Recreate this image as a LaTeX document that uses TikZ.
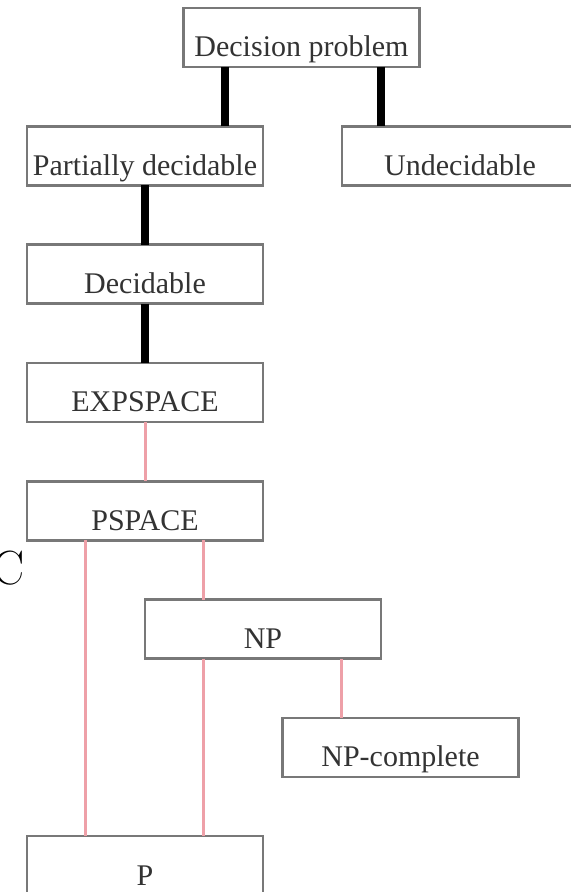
\documentclass[tikz,border=0pt]{standalone}
\usepackage{fontspec}
\newfontfamily\boxfont{Liberation Serif}
\usetikzlibrary{positioning}

\definecolor{edgegray}{RGB}{120,120,120}
\definecolor{linkpink}{RGB}{238,160,168}

\begin{document}
\begin{tikzpicture}[
  x=0.5pt, y=-0.5pt,
  node distance=29.65pt,
  box/.style={draw=edgegray, fill=white, line width=1.3pt, text=black!80,
    font=\boxfont\fontsize{15}{15}\selectfont, minimum width=118pt,
    inner xsep=0pt, inner ysep=0pt, outer sep=0pt,
    text height=24.5pt, text depth=5pt},
  link/.style={line width=4pt, draw=black},
  sublink/.style={line width=1.5pt, draw=linkpink}
]
  \useasboundingbox (0,0) rectangle (570,892);

  \node[box, anchor=north] (dec) at (301.5,8) {Decision problem};
  \node[box, below=of dec, xshift=-78.25pt] (partial) {Partially decidable};
  \node[box, below=of dec, xshift=79.25pt] (undec) {Undecidable};
  \node[box, below=of partial] (decid) {Decidable};
  \node[box, below=of decid] (exps) {EXPSPACE};
  \node[box, below=of exps] (pspace) {PSPACE};
  \node[box, below right=29.65pt and 0pt of pspace.south] (np) {NP};
  \node[box, below right=29.65pt and 9.75pt of np.south] (npc) {NP-complete};
  \node[box, anchor=north] (p) at ([yshift=-29.65pt]npc.south -| pspace.south) {P};

  \node[anchor=base east, inner sep=0pt, font=\fontsize{24}{24}\selectfont] (cmark) at (25,584) {C};

  % decidability levels
  \draw[link] ([xshift=20.5pt]dec.south west) -- ([xshift=20.5pt]dec.south west |- partial.north);
  \draw[link] ([xshift=-19.5pt]dec.south east) -- ([xshift=-19.5pt]dec.south east |- undec.north);
  \draw[link] (partial) -- (decid);
  \draw[link] (decid) -- (exps);

  % complexity classes
  \draw[sublink] (exps) -- (pspace);
  \draw[sublink] ([xshift=29pt]pspace.south west) -- ([xshift=29pt]p.north west);
  \draw[sublink] ([xshift=29.25pt]np.north west) -- ([xshift=29.25pt]np.north west |- pspace.south);
  \draw[sublink] ([xshift=29.25pt]np.south west) -- ([xshift=29.25pt]np.south west |- p.north);
  \draw[sublink] ([xshift=29.5pt]npc.north west) -- ([xshift=29.5pt]npc.north west |- np.south);
\end{tikzpicture}
\end{document}
